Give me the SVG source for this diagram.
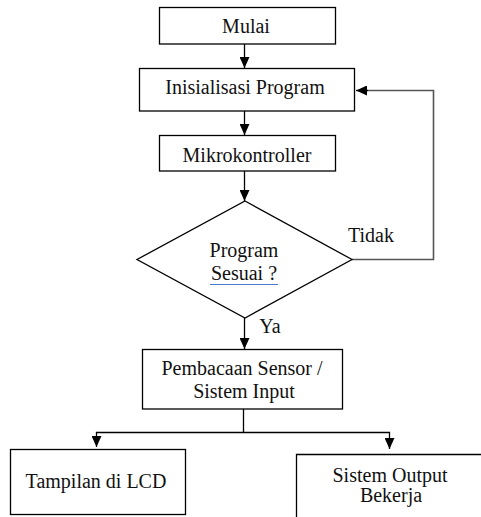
<svg xmlns="http://www.w3.org/2000/svg" width="481" height="517" viewBox="0 0 481 517">
<defs>
<style>
.box{fill:#fff;stroke:#000;stroke-width:1.3}
.t{font-family:'Liberation Serif','Times New Roman','DejaVu Serif',serif;font-size:20px;fill:#111;text-anchor:middle}
.c{fill:none;stroke:#000;stroke-width:1.3}
.g{fill:none;stroke:#555;stroke-width:1.6}
</style>
<marker id="ah" markerUnits="userSpaceOnUse" markerWidth="12" markerHeight="10" viewBox="0 0 12 10" refX="11" refY="5" orient="auto">
<path d="M0,0 L11,5 L0,10 Z" fill="#000"/>
</marker>
</defs>
<g id="connectors">
<line class="c" x1="244.5" y1="44" x2="244.5" y2="68" marker-end="url(#ah)"/>
<line class="c" x1="244.5" y1="111" x2="244.5" y2="135" marker-end="url(#ah)"/>
<line class="c" x1="244.5" y1="171" x2="244.5" y2="201" marker-end="url(#ah)"/>
<line class="c" x1="244.5" y1="318" x2="244.5" y2="349" marker-end="url(#ah)"/>
<polyline class="g" points="352,259.5 433.5,259.5 433.5,90.5 366,90.5"/>
<line class="c" x1="368" y1="90.5" x2="356" y2="90.5" marker-end="url(#ah)"/>
<line class="c" x1="243.5" y1="409" x2="243.5" y2="432"/>
<polyline class="c" points="96.5,440 96.5,432.5 389.5,432.5 389.5,440"/>
<line class="c" x1="96.5" y1="436" x2="96.5" y2="447" marker-end="url(#ah)"/>
<line class="c" x1="389.5" y1="438" x2="389.5" y2="449" marker-end="url(#ah)"/>
</g>
<g id="mulai">
<rect class="box" x="159.5" y="7.5" width="176" height="36.5"/>
<text class="t" font-family="Liberation Serif, serif" x="246" y="33">Mulai</text>
</g>
<g id="inisialisasi">
<rect class="box" x="139.5" y="68.5" width="215" height="42.5"/>
<text class="t" font-family="Liberation Serif, serif" x="245" y="94">Inisialisasi Program</text>
</g>
<g id="mikrokontroller">
<rect class="box" x="159.5" y="135.5" width="176" height="35.5"/>
<text class="t" font-family="Liberation Serif, serif" x="247" y="162">Mikrokontroller</text>
</g>
<g id="decision">
<polygon class="box" points="245,201 352,259.5 245,318 137,259.5"/>
<text class="t" font-family="Liberation Serif, serif" x="244" y="257">Program</text>
<text class="t" font-family="Liberation Serif, serif" x="244" y="280">Sesuai ?</text>
<line x1="210" y1="284.5" x2="278" y2="284.5" stroke="#4a7bd0" stroke-width="1"/>
<text class="t" font-family="Liberation Serif, serif" x="371" y="242">Tidak</text>
<text class="t" font-family="Liberation Serif, serif" x="270" y="333">Ya</text>
</g>
<g id="pembacaan">
<rect class="box" x="142.5" y="349.5" width="200" height="59.5"/>
<text class="t" font-family="Liberation Serif, serif" x="242" y="375">Pembacaan Sensor /</text>
<text class="t" font-family="Liberation Serif, serif" x="244" y="398">Sistem Input</text>
</g>
<g id="lcd">
<rect class="box" x="10.5" y="449.5" width="175" height="65"/>
<text class="t" font-family="Liberation Serif, serif" x="96" y="488">Tampilan di LCD</text>
</g>
<g id="output">
<polyline class="box" points="296.5,518 296.5,454.5 481,454.5"/>
<text class="t" font-family="Liberation Serif, serif" x="390" y="482">Sistem Output</text>
<text class="t" font-family="Liberation Serif, serif" x="391" y="502">Bekerja</text>
</g>
</svg>
